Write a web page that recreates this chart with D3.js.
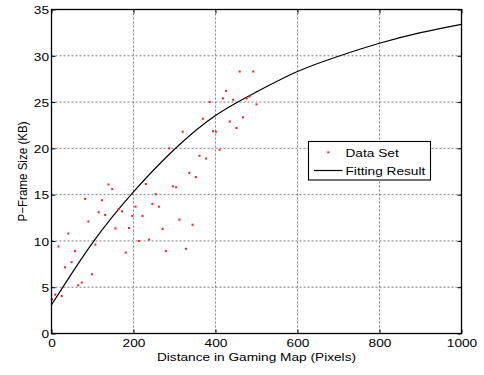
<!DOCTYPE html>
<html>
<head>
<meta charset="utf-8">
<script src="https://cdn.jsdelivr.net/npm/d3@7"></script>
<style>
  body { margin: 0; background: #fff; }
  svg text { font-family: "Liberation Sans", Arial, Helvetica, sans-serif; font-size: 11.6px; fill: #000; }
</style>
</head>
<body>
<div id="chart"></div>
<script>
// measured data
var distX = [1, 9, 17, 25, 33, 41, 49, 57, 65, 74, 82, 90, 99, 107, 115, 123, 131, 139, 148, 156,
    164, 172, 181, 189, 197, 205, 213, 222, 230, 238, 246, 254, 262, 271, 279, 287, 296, 304, 312, 320,
    328, 336, 344, 352, 361, 369, 377, 386, 394, 401, 410, 418, 426, 435, 443, 451, 459, 467, 476, 483,
    492, 500];
var frameKB = [3.7, 4.2, 9.4, 4.05, 7.15, 10.8, 7.7, 8.9, 5.2, 5.5, 14.55, 12.1, 6.4, 9.6, 13.1, 14.4, 12.8, 16.1, 15.6, 11.35,
    13.45, 13.2, 8.75, 11.4, 12.7, 13.7, 10.0, 12.7, 16.15, 10.15, 14.0, 15.05, 13.7, 11.3, 8.9, 20.0, 15.9, 15.8, 12.3, 21.8,
    9.15, 17.35, 11.75, 16.9, 19.2, 23.2, 18.9, 25.0, 21.85, 21.8, 19.85, 25.4, 26.2, 22.9, 25.25, 22.2, 28.3, 23.35, 25.4, 25.6,
    28.3, 24.75];

// fitted curve
var fitX = [0, 100, 200, 300, 400, 500, 600, 700, 800, 900, 1000];
var fitY = [3.1, 9.8, 15.3, 19.9, 23.55, 26.1, 28.3, 29.95, 31.35, 32.5, 33.4];

var xTicks = [0, 200, 400, 600, 800, 1000];
var yTicks = [0, 5, 10, 15, 20, 25, 30, 35];
var legendLabels = ["Data Set", "Fitting Result"];

var width = 484, height = 375;
var left = 51.5, top_ = 9.5, right = 461.5, bottom = 333.5;
var sx = 1.16; // horizontal stretch of the original text

var svg = d3.select("#chart").append("svg")
    .attr("width", width)
    .attr("height", height);

var x = d3.scaleLinear().domain([0, 1000]).range([left, right]);
var y = d3.scaleLinear().domain([0, 35]).range([bottom, top_]);

// dotted grid
svg.selectAll(".gx").data(xTicks.slice(1, -1)).enter().append("line")
    .attr("class", "gx")
    .attr("x1", function(d) { return x(d); })
    .attr("x2", function(d) { return x(d); })
    .attr("y1", top_).attr("y2", bottom)
    .attr("stroke", "#808080").attr("stroke-width", 1).attr("stroke-dasharray", "2,2");

svg.selectAll(".gy").data(yTicks.slice(1, -1)).enter().append("line")
    .attr("class", "gy")
    .attr("y1", function(d) { return y(d); })
    .attr("y2", function(d) { return y(d); })
    .attr("x1", left).attr("x2", right)
    .attr("stroke", "#808080").attr("stroke-width", 1).attr("stroke-dasharray", "2,2");

// fitted line
var line = d3.line()
    .x(function(d) { return x(d[0]); })
    .y(function(d) { return y(d[1]); })
    .curve(d3.curveNatural);

svg.append("path")
    .datum(d3.zip(fitX, fitY))
    .attr("fill", "none")
    .attr("stroke", "#000")
    .attr("stroke-width", 1.2)
    .attr("d", line);

// data set
svg.append("g").selectAll("rect").data(d3.zip(distX, frameKB)).enter().append("rect")
    .attr("x", function(d) { return x(d[0]) - 1; })
    .attr("y", function(d) { return y(d[1]) - 1; })
    .attr("width", 2).attr("height", 2)
    .attr("fill", "#ff1a1a");

// axes with inward ticks
var xAxis = d3.axisBottom(x).tickValues(xTicks).tickSize(-4).tickPadding(0).tickFormat(d3.format("d"));
var yAxis = d3.axisLeft(y).tickValues(yTicks).tickSize(-4).tickPadding(0).tickFormat(d3.format("d"));

var gX = svg.append("g").attr("transform", "translate(0," + bottom + ")").call(xAxis);
var gY = svg.append("g").attr("transform", "translate(" + left + ",0)").call(yAxis);
var gX2 = svg.append("g").attr("transform", "translate(0," + top_ + ")")
    .call(d3.axisTop(x).tickValues(xTicks).tickSize(-4).tickFormat(""));
var gY2 = svg.append("g").attr("transform", "translate(" + right + ",0)")
    .call(d3.axisRight(y).tickValues(yTicks).tickSize(-4).tickFormat(""));

[gX, gY, gX2, gY2].forEach(function(g) {
    g.select(".domain").remove();
    g.selectAll(".tick line").attr("stroke", "#000").attr("stroke-width", 1);
});

gX.selectAll(".tick text")
    .attr("y", 13.8).attr("dy", 0)
    .attr("transform", "scale(" + sx + ",1)")
    .style("font-size", "11.8px");

gY.selectAll(".tick text")
    .attr("x", -2.5 / sx).attr("dy", "0.36em")
    .attr("transform", "scale(" + sx + ",1)")
    .style("font-size", "11.8px");

// box
svg.append("rect")
    .attr("x", left).attr("y", top_)
    .attr("width", right - left).attr("height", bottom - top_)
    .attr("fill", "none").attr("stroke", "#000").attr("stroke-width", 1.3);

// axis labels
svg.append("g")
    .attr("transform", "translate(" + ((left + right) / 2) + ",360.5) scale(" + sx + ",1)")
    .append("text")
    .attr("text-anchor", "middle")
    .style("font-size", "11.8px")
    .text("Distance in Gaming Map (Pixels)");

svg.append("g")
    .attr("transform", "translate(26.5," + ((top_ + bottom) / 2) + ") rotate(-90) scale(1,1.12)")
    .append("text")
    .attr("text-anchor", "middle")
    .style("font-size", "11.6px")
    .text("P\u2212Frame Size (KB)");

// legend
var legend = svg.append("g");
legend.append("rect")
    .attr("x", 308.5).attr("y", 141.5)
    .attr("width", 122).attr("height", 38.5)
    .attr("fill", "#fff").attr("stroke", "#000").attr("stroke-width", 1.1);

legend.append("rect")
    .attr("x", 327.3).attr("y", 151.3).attr("width", 2).attr("height", 2)
    .attr("fill", "#ff1a1a");

legend.append("line")
    .attr("x1", 314).attr("x2", 342.5)
    .attr("y1", 170.5).attr("y2", 170.5)
    .attr("stroke", "#000").attr("stroke-width", 1.2);

legend.selectAll(".lt").data(legendLabels).enter().append("g")
    .attr("transform", function(d, i) { return "translate(345.5," + (156.5 + i * 18.4) + ") scale(" + sx + ",1)"; })
    .append("text")
    .style("font-size", "11.8px")
    .text(function(d) { return d; });
</script>
</body>
</html>
